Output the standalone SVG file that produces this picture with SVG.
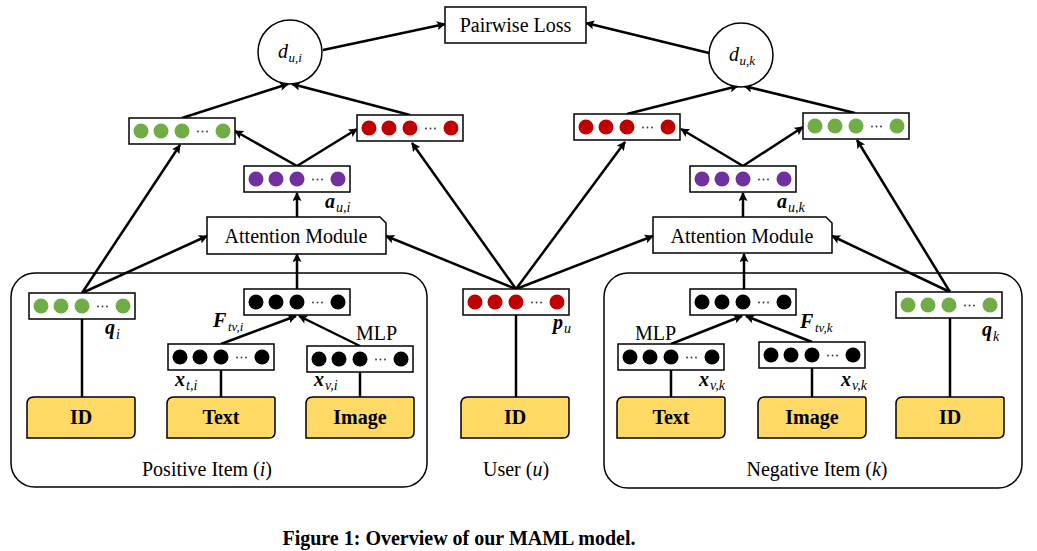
<svg xmlns="http://www.w3.org/2000/svg" xmlns:xlink="http://www.w3.org/1999/xlink" width="1037" height="551" viewBox="0 0 1037 551">
<style>
.ln{stroke:#000;stroke-width:2.5;fill:none}
.ar{stroke:#000;stroke-width:2.5;fill:none;marker-end:url(#ah)}
.bx{fill:#fff;stroke:#000;stroke-width:1.5}
.ct{fill:none;stroke:#000;stroke-width:1.5}
.t{font-family:"Liberation Serif","Times New Roman",serif;font-size:20px;fill:#000}
.tb{font-family:"Liberation Serif","Times New Roman",serif;font-size:20px;font-weight:bold;fill:#000}
.mi{font-family:"Liberation Serif","Times New Roman",serif;font-style:italic;fill:#000}
.mb{font-family:"Liberation Serif","Times New Roman",serif;font-style:italic;font-weight:bold;fill:#000}
.g{color:#70AD47}.r{color:#C00000}.p{color:#7030A0}.k{color:#000}
</style>
<defs>
<marker id="ah" viewBox="0 0 10 10" refX="9" refY="5" markerWidth="11" markerHeight="9" markerUnits="userSpaceOnUse" orient="auto">
<path d="M0,0 L10,5 L0,10 L2,5 Z" fill="#000"/>
</marker>
<g id="vec">
<rect x="0" y="0" width="106" height="26" class="bx"/>
<circle cx="12" cy="13" r="7.5" fill="currentColor"/>
<circle cx="32" cy="13" r="7.5" fill="currentColor"/>
<circle cx="53" cy="13" r="7.5" fill="currentColor"/>
<circle cx="69" cy="13.5" r="0.9" fill="#333"/>
<circle cx="73.5" cy="13.5" r="0.9" fill="#333"/>
<circle cx="78" cy="13.5" r="0.9" fill="#333"/>
<circle cx="94" cy="13" r="7.5" fill="currentColor"/>
</g>
<path id="ybox" d="M7,0 H106 Q108,0 108,2 V35 Q108,41 102,41 H0 V7 Q0,0 7,0 Z" fill="#FFD966" stroke="#000" stroke-width="1.5"/>
</defs>
<rect width="1037" height="551" fill="#fff"/>

<!-- containers -->
<g id="positive-item">
<rect x="11" y="273" width="416" height="214" rx="24" class="ct"/>
<text x="207" y="476" class="t" text-anchor="middle">Positive Item (<tspan font-style="italic">i</tspan>)</text>
</g>
<g id="user">
<text x="516" y="476" class="t" text-anchor="middle">User (<tspan font-style="italic">u</tspan>)</text>
</g>
<g id="negative-item">
<rect x="604" y="273" width="418" height="215" rx="24" class="ct"/>
<text x="817" y="476" class="t" text-anchor="middle">Negative Item (<tspan font-style="italic">k</tspan>)</text>
</g>

<!-- connectors -->
<g id="connectors">
<line x1="323" y1="50" x2="445" y2="24" class="ar"/>
<line x1="709" y1="53" x2="586" y2="23" class="ar"/>
<line x1="182" y1="118" x2="288" y2="84" class="ar"/>
<line x1="410" y1="115" x2="292" y2="84" class="ar"/>
<line x1="297" y1="166" x2="235" y2="131" class="ar"/>
<line x1="297" y1="166" x2="357" y2="129" class="ar"/>
<line x1="297" y1="217" x2="297" y2="193" class="ar"/>
<line x1="82" y1="293" x2="180" y2="145" class="ar"/>
<line x1="82" y1="293" x2="207" y2="236" class="ar"/>
<line x1="297" y1="289" x2="297" y2="254" class="ar"/>
<line x1="221" y1="344" x2="296" y2="316" class="ar"/>
<line x1="360" y1="346" x2="299" y2="316" class="ar"/>
<line x1="82" y1="319" x2="82" y2="397" class="ln"/>
<line x1="221" y1="370" x2="221" y2="397" class="ln"/>
<line x1="360" y1="372" x2="360" y2="397" class="ln"/>
<line x1="516" y1="289" x2="386" y2="236" class="ar"/>
<line x1="516" y1="289" x2="412" y2="143" class="ar"/>
<line x1="516" y1="289" x2="625" y2="142" class="ar"/>
<line x1="516" y1="289" x2="653" y2="236" class="ar"/>
<line x1="516" y1="315" x2="516" y2="397" class="ln"/>
<line x1="627" y1="114" x2="738" y2="86" class="ar"/>
<line x1="855" y1="113" x2="744" y2="86" class="ar"/>
<line x1="743" y1="166" x2="681" y2="129" class="ar"/>
<line x1="743" y1="166" x2="803" y2="127" class="ar"/>
<line x1="743" y1="217" x2="743" y2="193" class="ar"/>
<line x1="744" y1="289" x2="744" y2="254" class="ar"/>
<line x1="671" y1="344" x2="742" y2="316" class="ar"/>
<line x1="812" y1="342" x2="746" y2="316" class="ar"/>
<line x1="671" y1="370" x2="671" y2="397" class="ln"/>
<line x1="812" y1="368" x2="812" y2="397" class="ln"/>
<line x1="950" y1="292" x2="832" y2="236" class="ar"/>
<line x1="950" y1="292" x2="857" y2="140" class="ar"/>
<line x1="950" y1="318" x2="950" y2="397" class="ln"/>
</g>

<!-- top -->
<g id="pairwise-loss">
<rect x="445" y="7" width="141" height="36" class="bx"/>
<text x="515.5" y="32" class="t" text-anchor="middle" font-size="20.5">Pairwise Loss</text>
</g>
<g id="d-ui">
<circle cx="290" cy="52" r="32" class="bx"/>
<text class="mi" font-size="20"><tspan x="278" y="58">d</tspan><tspan x="288.5" y="62" font-size="13">u,i</tspan></text>
</g>
<g id="d-uk">
<circle cx="741" cy="55" r="32" class="bx"/>
<text class="mi" font-size="20"><tspan x="729" y="61">d</tspan><tspan x="739.5" y="65" font-size="13">u,k</tspan></text>
</g>

<!-- left branch -->
<g id="item-vec-i" class="g"><use xlink:href="#vec" x="129" y="118"/></g>
<g id="user-vec-i" class="r"><use xlink:href="#vec" x="357" y="115"/></g>
<g id="att-vec-i" class="p"><use xlink:href="#vec" x="244" y="166"/></g>
<g id="a-ui-label"><text class="mb" font-size="20"><tspan x="325" y="208">a</tspan><tspan x="336" y="212" font-size="14" font-weight="normal">u,i</tspan></text></g>
<g id="attention-i">
<path d="M207,217 H380 L386,223 V254 H207 Z" class="bx"/>
<text x="296" y="243" class="t" text-anchor="middle" font-size="20.5">Attention Module</text>
</g>
<g id="q-i" class="g"><use xlink:href="#vec" x="29" y="293"/>
<text class="mb" font-size="20"><tspan x="105" y="334">q</tspan><tspan x="116" y="339" font-size="14" font-weight="normal">i</tspan></text></g>
<g id="F-i" class="k"><use xlink:href="#vec" x="244" y="289"/>
<text class="mb" font-size="20"><tspan x="213" y="327">F</tspan><tspan x="228" y="331" font-size="13" font-weight="normal">tv,i</tspan></text></g>
<g id="xt-i" class="k"><use xlink:href="#vec" x="168" y="344"/>
<text class="mb" font-size="20"><tspan x="175" y="386">x</tspan><tspan x="186" y="390" font-size="14" font-weight="normal">t,i</tspan></text></g>
<g id="xv-i" class="k"><use xlink:href="#vec" x="307" y="346"/>
<text class="mb" font-size="20"><tspan x="314" y="386">x</tspan><tspan x="325" y="390" font-size="14" font-weight="normal">v,i</tspan></text>
<text x="356" y="340" class="t">MLP</text></g>
<g id="id-i"><use xlink:href="#ybox" x="27" y="397"/><text x="81" y="424" class="tb" text-anchor="middle">ID</text></g>
<g id="text-i"><use xlink:href="#ybox" x="167" y="397"/><text x="221" y="424" class="tb" text-anchor="middle">Text</text></g>
<g id="image-i"><use xlink:href="#ybox" x="306" y="397"/><text x="360" y="424" class="tb" text-anchor="middle">Image</text></g>

<!-- user -->
<g id="p-u" class="r"><use xlink:href="#vec" x="463" y="289"/>
<text class="mb" font-size="20"><tspan x="553" y="329">p</tspan><tspan x="564" y="333" font-size="14" font-weight="normal">u</tspan></text></g>
<g id="id-u"><use xlink:href="#ybox" x="461" y="397"/><text x="515" y="424" class="tb" text-anchor="middle">ID</text></g>

<!-- right branch -->
<g id="user-vec-k" class="r"><use xlink:href="#vec" x="574" y="114"/></g>
<g id="item-vec-k" class="g"><use xlink:href="#vec" x="803" y="113"/></g>
<g id="att-vec-k" class="p"><use xlink:href="#vec" x="690" y="166"/></g>
<g id="a-uk-label"><text class="mb" font-size="20"><tspan x="777" y="208">a</tspan><tspan x="788" y="212" font-size="14" font-weight="normal">u,k</tspan></text></g>
<g id="attention-k">
<path d="M653,217 H826 L832,223 V253 H653 Z" class="bx"/>
<text x="742" y="243" class="t" text-anchor="middle" font-size="20.5">Attention Module</text>
</g>
<g id="F-k" class="k"><use xlink:href="#vec" x="690" y="289"/>
<text class="mb" font-size="20"><tspan x="800" y="328">F</tspan><tspan x="815" y="332" font-size="13" font-weight="normal">tv,k</tspan></text></g>
<g id="xt-k" class="k"><use xlink:href="#vec" x="618" y="344"/>
<text x="635" y="340" class="t">MLP</text>
<text class="mb" font-size="20"><tspan x="699" y="386">x</tspan><tspan x="710" y="390" font-size="14" font-weight="normal">v,k</tspan></text></g>
<g id="xv-k" class="k"><use xlink:href="#vec" x="759" y="342"/>
<text class="mb" font-size="20"><tspan x="841" y="386">x</tspan><tspan x="852" y="390" font-size="14" font-weight="normal">v,k</tspan></text></g>
<g id="q-k" class="g"><use xlink:href="#vec" x="896" y="292"/>
<text class="mb" font-size="20"><tspan x="982" y="336">q</tspan><tspan x="993" y="341" font-size="14" font-weight="normal">k</tspan></text></g>
<g id="text-k"><use xlink:href="#ybox" x="617" y="397"/><text x="671" y="424" class="tb" text-anchor="middle">Text</text></g>
<g id="image-k"><use xlink:href="#ybox" x="758" y="397"/><text x="812" y="424" class="tb" text-anchor="middle">Image</text></g>
<g id="id-k"><use xlink:href="#ybox" x="896" y="397"/><text x="950" y="424" class="tb" text-anchor="middle">ID</text></g>

<g id="caption"><text x="459" y="545" class="tb" font-size="18.3" text-anchor="middle">Figure 1: Overview of our MAML model.</text></g>
</svg>
